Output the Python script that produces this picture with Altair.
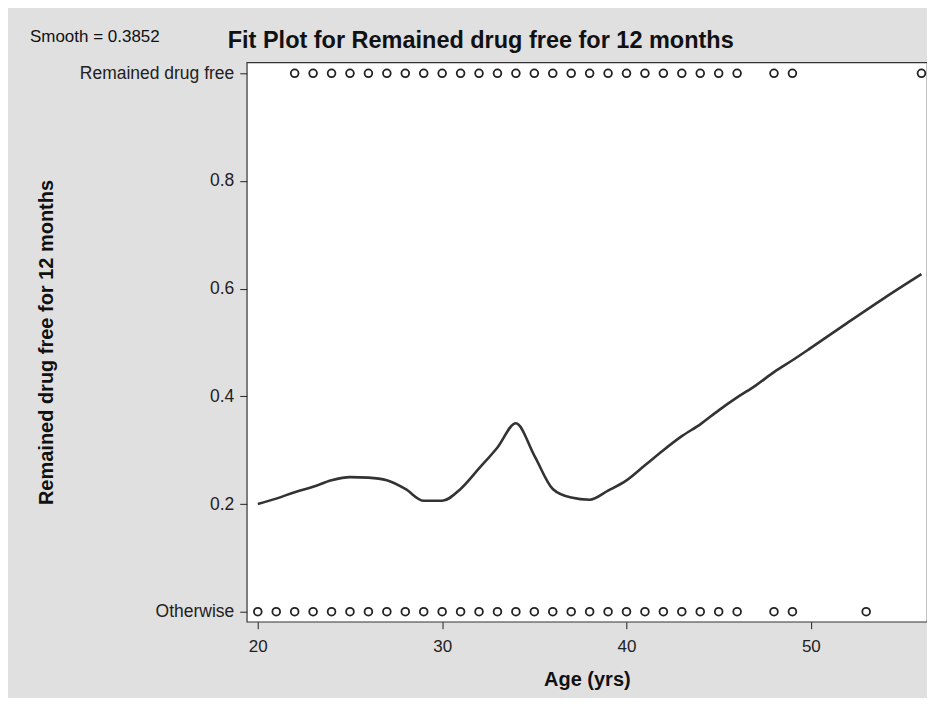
import altair as alt
import pandas as pd

# Observed responses (1 = Remained drug free, 0 = Otherwise)
ages_free = [22, 23, 24, 25, 26, 27, 28, 29, 30, 31, 32, 33, 34, 35, 36, 37, 38, 39,
             40, 41, 42, 43, 44, 45, 46, 48, 49, 56]
ages_other = [20, 21, 22, 23, 24, 25, 26, 27, 28, 29, 30, 31, 32, 33, 34, 35, 36, 37,
              38, 39, 40, 41, 42, 43, 44, 45, 46, 48, 49, 53]

# Loess fit curve
fit_age = [20, 21, 22, 23, 24, 25, 26, 27, 28, 29, 30, 31, 32, 33, 34, 35, 36, 37,
           38, 39, 40, 41, 42, 43, 44, 45, 46, 47, 48, 49, 50, 52, 54, 56]
fit_val = [0.200, 0.210, 0.222, 0.232, 0.244, 0.250, 0.249, 0.244, 0.228, 0.206,
           0.206, 0.228, 0.266, 0.305, 0.350, 0.290, 0.228, 0.212, 0.208, 0.225,
           0.244, 0.272, 0.300, 0.326, 0.348, 0.374, 0.398, 0.420, 0.445, 0.467,
           0.490, 0.537, 0.583, 0.627]

y_ticks = [0, 0.2, 0.4, 0.6, 0.8, 1]
x_ticks = [20, 30, 40, 50]

title_text = "Fit Plot for Remained drug free for 12 months"
smooth_text = "Smooth = 0.3852"

obs = pd.DataFrame({
    "age": ages_free + ages_other,
    "y": [1] * len(ages_free) + [0] * len(ages_other),
})
fit = pd.DataFrame({"age": fit_age, "y": fit_val})

FONT = "Liberation Sans"

xscale = alt.Scale(domain=[19.40, 56.30], nice=False, zero=False)
yscale = alt.Scale(domain=[-0.0186, 1.0204], nice=False, zero=False)

xaxis = alt.Axis(values=x_ticks, title="Age (yrs)", grid=False, domain=False,
                 tickSize=7, tickColor="#222", labelPadding=10,
                 labelFontSize=17, labelColor="#222", labelFont=FONT,
                 titleFontSize=20, titleFont=FONT, titleFontWeight="bold",
                 titleColor="#111", titleY=64, titleBaseline="alphabetic")
yaxis = alt.Axis(values=y_ticks, title="Remained drug free for 12 months",
                 grid=False, domain=False, tickSize=7, tickColor="#222",
                 labelPadding=6, labelFontSize=17.5, labelColor="#222", labelFont=FONT,
                 labelExpr="datum.value == 1 ? 'Remained drug free' : (datum.value == 0 ? 'Otherwise' : format(datum.value, '.1f'))",
                 titleFontSize=20, titleFont=FONT, titleFontWeight="bold",
                 titleColor="#111", titleX=-200, titleY=280, titleAngle=-90,
                 titleAlign="center", titleBaseline="middle")

points = alt.Chart(obs).mark_point(
    shape="circle", filled=False, size=60, strokeWidth=1.8, color="#222", opacity=1
).encode(
    x=alt.X("age:Q", scale=xscale, axis=xaxis),
    y=alt.Y("y:Q", scale=yscale, axis=yaxis),
)

line = alt.Chart(fit).mark_line(color="#333", strokeWidth=2.6, interpolate="monotone").encode(
    x=alt.X("age:Q", scale=xscale),
    y=alt.Y("y:Q", scale=yscale),
)

smooth = alt.Chart(pd.DataFrame({"t": [smooth_text]})).mark_text(
    align="left", baseline="alphabetic", fontSize=17, font=FONT, color="#111"
).encode(x=alt.value(-217), y=alt.value(-20), text="t:N")

title = alt.Chart(pd.DataFrame({"t": [title_text]})).mark_text(
    align="left", baseline="alphabetic", fontSize=23.5, font=FONT,
    fontWeight="bold", color="#111"
).encode(x=alt.value(-19), y=alt.value(-14), text="t:N")

chart = alt.layer(line, points, smooth, title).properties(
    width=681,
    height=560,
    background="#E0E0E0",
    padding={"left": 239, "top": 54, "right": 0, "bottom": 76},
    autosize=alt.AutoSizeParams(type="none"),
).configure_view(
    stroke="#333", strokeWidth=1.2, fill="white"
)

chart.save("out.html", embed_options={"renderer": "svg", "actions": False})
